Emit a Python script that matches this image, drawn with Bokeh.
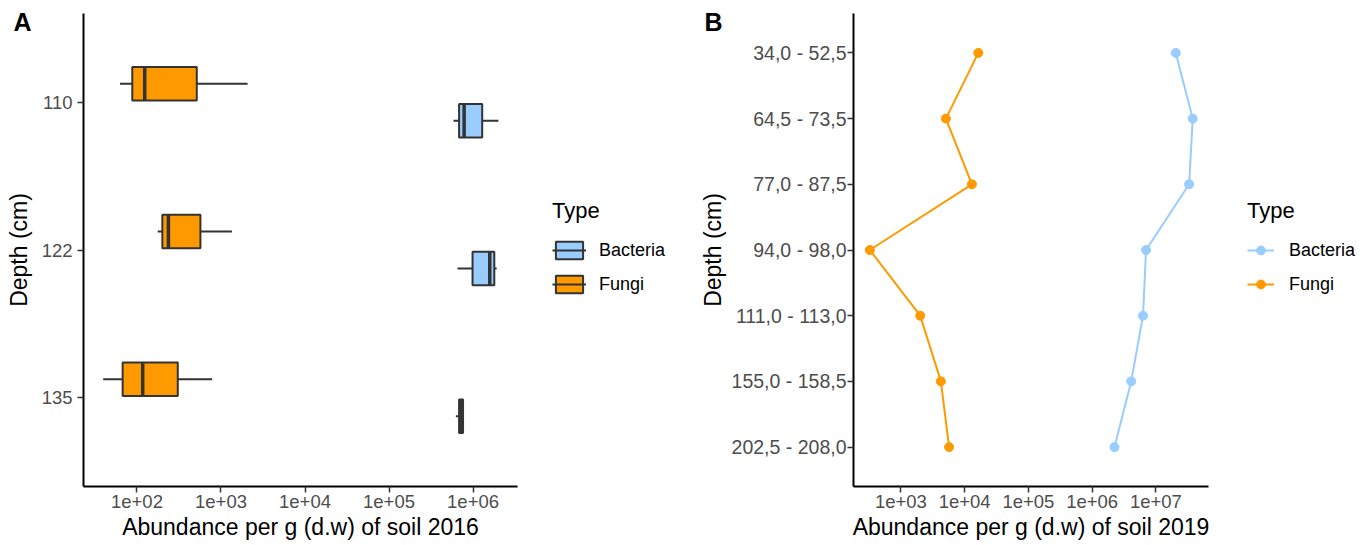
from bokeh.plotting import figure
from bokeh.models import (ColumnDataSource, FactorRange, Range1d, FixedTicker,
                          Legend, LegendItem)
from bokeh.transform import dodge
from bokeh.layouts import row
from bokeh.embed import file_html
from bokeh.resources import INLINE

FONT = "Liberation Sans"
BACT = "#99CCFF"
FUNG = "#FF9900"
EDGE = "#333333"
NAN = float("nan")

# ---------------- Panel A data (2016, box plots) ----------------
depths_2016 = ["110", "122", "135"]
fungi_whisker_low = [62.7, 176.6, 39.6]
fungi_q1 = [87.9, 200.4, 67.5]
fungi_median = [123.6, 236.6, 117.0]
fungi_q3 = [515.0, 569.0, 306.0]
fungi_whisker_high = [2070.0, 1349.0, 785.0]

bact_whisker_low = [5.85e5, 6.53e5, 6.24e5]
bact_q1 = [6.82e5, 9.86e5, 6.82e5]
bact_median = [7.83e5, 1.58e6, 7.2e5]
bact_q3 = [1.285e6, 1.79e6, 7.6e5]
bact_whisker_high = [2.0e6, 1.91e6, 7.6e5]

ticks_2016 = [1e2, 1e3, 1e4, 1e5, 1e6]
tick_labels_2016 = ["1e+02", "1e+03", "1e+04", "1e+05", "1e+06"]

# ---------------- Panel B data (2019, profiles) ----------------
depths_2019 = ["34,0 - 52,5", "64,5 - 73,5", "77,0 - 87,5", "94,0 - 98,0",
               "111,0 - 113,0", "155,0 - 158,5", "202,5 - 208,0"]
fungi_2019 = [16400, 5080, 13000, 325, 2010, 4240, 5700]
bacteria_2019 = [2.05e7, 3.78e7, 3.32e7, 7.0e6, 6.28e6, 4.1e6, 2.24e6]

ticks_2019 = [1e3, 1e4, 1e5, 1e6, 1e7]
tick_labels_2019 = ["1e+03", "1e+04", "1e+05", "1e+06", "1e+07"]

types = ["Bacteria", "Fungi"]


def style(p, xlabel, ylabel, ticks, labels, ylab_standoff, ytitle_standoff, ylab_size):
    p.xaxis.axis_label = xlabel
    p.yaxis.axis_label = ylabel
    p.xaxis.ticker = FixedTicker(ticks=ticks)
    p.xaxis.major_label_overrides = {float(t): l for t, l in zip(ticks, labels)}
    for ax in (p.xaxis[0], p.yaxis[0]):
        ax.axis_line_color = "black"
        ax.axis_line_width = 2
        ax.major_tick_in = 0
        ax.major_tick_out = 6
        ax.major_tick_line_color = EDGE
        ax.major_tick_line_width = 1.5
        ax.minor_tick_line_color = None
        ax.major_label_text_font = FONT
        ax.major_label_text_font_size = "18.5px"
        ax.major_label_text_color = "#4D4D4D"
        ax.axis_label_text_font = FONT
        ax.axis_label_text_font_size = "23px"
        ax.axis_label_text_font_style = "normal"
        ax.axis_label_text_color = "black"
    p.yaxis.major_label_text_font_size = ylab_size
    p.xaxis.major_label_standoff = 2
    p.xaxis.axis_label_standoff = 3
    p.yaxis.major_label_standoff = ylab_standoff
    p.yaxis.axis_label_standoff = ytitle_standoff
    p.xgrid.visible = False
    p.ygrid.visible = False
    p.outline_line_color = None
    p.background_fill_color = "white"
    p.border_fill_color = "white"


def panel_tag(p, text, offset):
    p.title.text = text
    p.title.text_font = FONT
    p.title.text_font_size = "25px"
    p.title.text_font_style = "bold"
    p.title.text_color = "black"
    p.title.align = "left"
    p.title.offset = offset
    p.title.standoff = -44


def legend_fig(width):
    f = figure(width=width, height=545, x_range=Range1d(0, 1), y_range=Range1d(0, 1),
               min_border_left=0, min_border_right=0, min_border_top=0, min_border_bottom=0,
               x_axis_location=None, y_axis_location=None,
               output_backend="svg", toolbar_location=None, tools="")
    f.xgrid.visible = False
    f.ygrid.visible = False
    f.outline_line_color = None
    f.background_fill_color = "white"
    f.border_fill_color = "white"
    return f


def style_legend(lg, glyph_width, standoff):
    lg.title_text_font = FONT
    lg.title_text_font_size = "22px"
    lg.title_text_font_style = "normal"
    lg.title_text_color = "black"
    lg.title_standoff = 15
    lg.label_text_font = FONT
    lg.label_text_font_size = "18px"
    lg.label_text_color = "black"
    lg.label_standoff = standoff
    lg.glyph_width = glyph_width
    lg.glyph_height = 22
    lg.label_height = 22
    lg.spacing = 12
    lg.padding = 0
    lg.margin = 0
    lg.border_line_alpha = 0
    lg.background_fill_alpha = 0


# ---------------- Panel A ----------------
pA = figure(width=525, height=545, x_axis_type="log",
            x_range=Range1d(10 ** 1.3635, 10 ** 6.529),
            y_range=FactorRange(factors=depths_2016[::-1], range_padding=0.1,
                                range_padding_units="absolute"),
            min_border_left=83, min_border_right=8, min_border_top=13, min_border_bottom=59,
            output_backend="svg", toolbar_location=None, tools="")
style(pA, "Abundance per g (d.w) of soil 2016", "Depth (cm)",
      ticks_2016, tick_labels_2016, 5, 7, "18.5px")
panel_tag(pA, "A", -70)

BOX_H = 0.2266
OFF = 0.125
for name, color, off, wl, q1, md, q3, wh in [
    ("Bacteria", BACT, -OFF, bact_whisker_low, bact_q1, bact_median, bact_q3, bact_whisker_high),
    ("Fungi", FUNG, OFF, fungi_whisker_low, fungi_q1, fungi_median, fungi_q3, fungi_whisker_high),
]:
    src = ColumnDataSource(dict(depth=depths_2016, wl=wl, q1=q1, md=md, q3=q3, wh=wh))
    yc = dodge("depth", off, range=pA.y_range)
    pA.segment(x0="wl", x1="q1", y0=yc, y1=yc, source=src, line_color=EDGE, line_width=2)
    pA.segment(x0="q3", x1="wh", y0=yc, y1=yc, source=src, line_color=EDGE, line_width=2)
    pA.hbar(y=yc, left="q1", right="q3", height=BOX_H, source=src,
            fill_color=color, line_color=EDGE, line_width=2)
    pA.segment(x0="md", x1="md",
               y0=dodge("depth", off - BOX_H / 2, range=pA.y_range),
               y1=dodge("depth", off + BOX_H / 2, range=pA.y_range),
               source=src, line_color=EDGE, line_width=3.5)

# legend A (own strip so it is not clipped by the plot frame);
# its key renderers hold a single NaN row: they only supply the legend keys
lfA = legend_fig(165)
items_A = []
for name, color in zip(types, [BACT, FUNG]):
    key_src = ColumnDataSource(dict(y=[NAN], l=[NAN], r=[NAN]))
    b = lfA.hbar(y="y", left="l", right="r", height=0.1, source=key_src,
                 fill_color=color, line_color=EDGE, line_width=2)
    m = lfA.segment(x0="l", x1="r", y0="y", y1="y", source=key_src,
                    line_color=EDGE, line_width=2)
    items_A.append(LegendItem(label=name, renderers=[b, m]))
legA = Legend(items=items_A, title="Type", location=(27, 191))
style_legend(legA, 34, 13)
lfA.add_layout(legA)

# ---------------- Panel B ----------------
pB = figure(width=526, height=545, x_axis_type="log",
            x_range=Range1d(10 ** 2.2565, 10 ** 7.825),
            y_range=FactorRange(factors=depths_2019[::-1], range_padding=0.1,
                                range_padding_units="absolute"),
            min_border_left=163, min_border_right=8, min_border_top=13, min_border_bottom=59,
            output_backend="svg", toolbar_location=None, tools="")
style(pB, "Abundance per g (d.w) of soil 2019", "Depth (cm)",
      ticks_2019, tick_labels_2019, 1, 3, "19.5px")
panel_tag(pB, "B", -149)

for name, color, vals in [("Bacteria", BACT, bacteria_2019), ("Fungi", FUNG, fungi_2019)]:
    src = ColumnDataSource(dict(depth=depths_2019, v=vals))
    pB.line(x="v", y="depth", source=src, line_color=color, line_width=2)
    pB.scatter(x="v", y="depth", source=src, size=9, fill_color=color, line_color=color)

lfB = legend_fig(1370 - 690 - 526)
items_B = []
for name, color in zip(types, [BACT, FUNG]):
    key_src = ColumnDataSource(dict(x=[NAN], y=[NAN]))
    ln = lfB.line(x="x", y="y", source=key_src, line_color=color, line_width=2)
    pt = lfB.scatter(x="x", y="y", source=key_src, size=9, fill_color=color, line_color=color)
    items_B.append(LegendItem(label=name, renderers=[ln, pt]))
legB = Legend(items=items_B, title="Type", location=(31, 191))
style_legend(legB, 27, 15)
lfB.add_layout(legB)

layout = row(pA, lfA, pB, lfB)
open("out.html", "w").write(file_html(layout, INLINE))
